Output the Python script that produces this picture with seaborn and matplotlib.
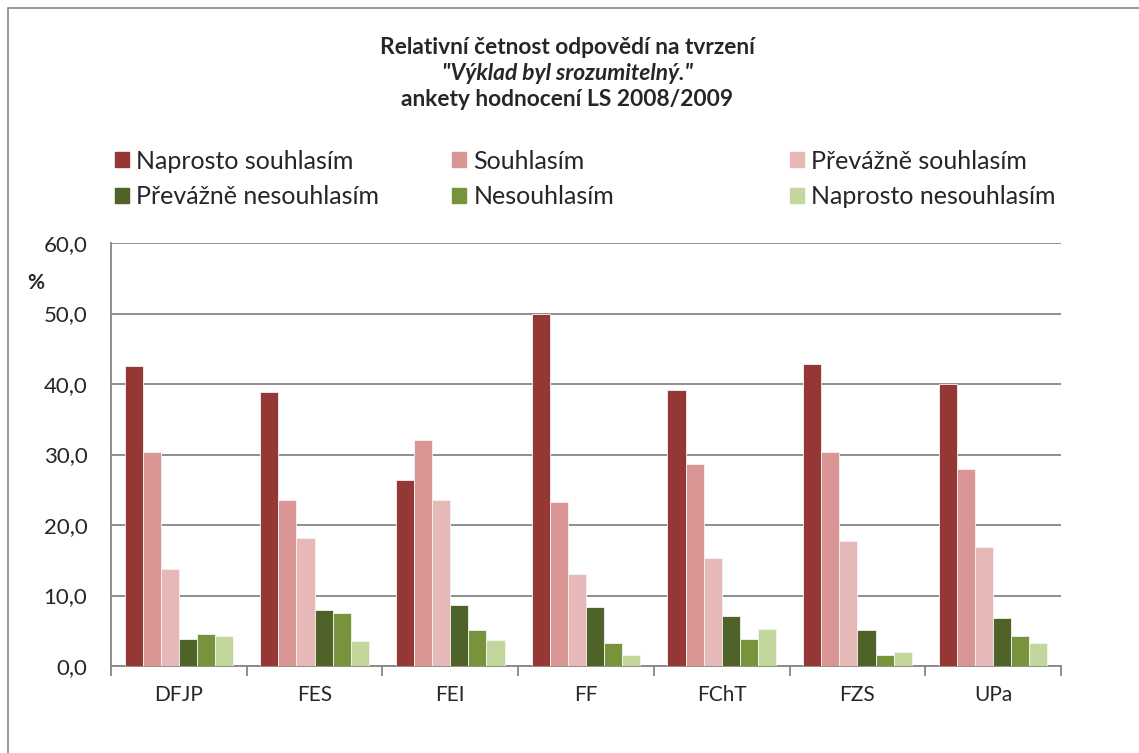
import numpy as np
import matplotlib
matplotlib.use('Agg')
import matplotlib.pyplot as plt
import matplotlib.patches as mpatches
from matplotlib.ticker import FuncFormatter, FixedLocator
import seaborn as sns
import pandas as pd

# data
faculties = ['DFJP', 'FES', 'FEI', 'FF', 'FChT', 'FZS', 'UPa']
answers = ['Naprosto souhlasím', 'Souhlasím', 'Převážně souhlasím',
           'Převážně nesouhlasím', 'Nesouhlasím', 'Naprosto nesouhlasím']
naprosto_souhlasim = [42.6, 38.8, 26.4, 50.0, 39.2, 42.8, 40.0]
souhlasim = [30.4, 23.5, 32.0, 23.2, 28.7, 30.3, 28.0]
prevazne_souhlasim = [13.8, 18.1, 23.6, 13.0, 15.3, 17.7, 16.9]
prevazne_nesouhlasim = [3.9, 8.0, 8.6, 8.4, 7.1, 5.1, 6.8]
nesouhlasim = [4.5, 7.5, 5.1, 3.3, 3.8, 1.5, 4.3]
naprosto_nesouhlasim = [4.2, 3.5, 3.7, 1.6, 5.2, 2.0, 3.3]
colors = ['#953735', '#D99694', '#E6B9B8', '#4F6228', '#77933C', '#C3D69B']

series = [naprosto_souhlasim, souhlasim, prevazne_souhlasim,
          prevazne_nesouhlasim, nesouhlasim, naprosto_nesouhlasim]
rows = []
for ans, vals in zip(answers, series):
    for fac, v in zip(faculties, vals):
        rows.append({'fakulta': fac, 'odpoved': ans, 'procent': v})
df = pd.DataFrame(rows)

sns.set_style('white')
plt.rcParams['font.family'] = ['Lato', 'DejaVu Sans']

fig = plt.figure(figsize=(11.39, 7.53), dpi=100)
ax = fig.add_axes([111 / 1139, 87 / 753, 950 / 1139, 423 / 753])

sns.barplot(data=df, x='fakulta', y='procent', hue='odpoved',
            hue_order=answers, order=faculties, palette=colors, saturation=1,
            width=0.8, gap=0, edgecolor='#f4f4f4', linewidth=0.6,
            legend=False, ax=ax, zorder=3)

grey = '#868686'
ax.set_ylim(0, 60)
ax.set_xlim(-0.5, len(faculties) - 0.5)
ax.set_yticks(np.arange(0, 61, 10))
ax.yaxis.set_major_formatter(FuncFormatter(lambda v, p: f'{v:.1f}'.replace('.', ',')))
ax.grid(axis='y', color=grey, linewidth=1.3, zorder=0)
ax.set_axisbelow(True)
for s in ['top', 'right']:
    ax.spines[s].set_visible(False)
for s in ['left', 'bottom']:
    ax.spines[s].set_color(grey)
    ax.spines[s].set_linewidth(1.3)
ax.tick_params(axis='y', length=8, width=1.3, color=grey, labelsize=16, pad=9)
ax.tick_params(axis='x', which='major', length=0, labelsize=15, pad=14)
ax.xaxis.set_minor_locator(FixedLocator(np.arange(-0.5, len(faculties), 1)))
ax.tick_params(axis='x', which='minor', length=7, width=1.3, color=grey, bottom=True)
ax.set_xlabel('')
ax.set_ylabel('')
fig.text(36 / 1139, 1 - 283 / 753, '%', fontsize=15, fontweight='bold', ha='center', va='center')

# title
title_kw = dict(fontsize=16.4, fontweight='bold', ha='center', va='center')
fig.text(567 / 1139, 1 - 48 / 753, 'Relativní četnost odpovědí na tvrzení', **title_kw)
fig.text(567 / 1139, 1 - 73 / 753, '"Výklad byl srozumitelný."', style='italic', **title_kw)
fig.text(567 / 1139, 1 - 99 / 753, 'ankety hodnocení LS 2008/2009', **title_kw)

# legend: one small legend per column so the columns sit where they do in the reference
handles = [mpatches.Patch(color=c, label=a) for c, a in zip(colors, answers)]
col_x = [115, 452, 790]
for i, x in enumerate(col_x):
    fig.legend([handles[i], handles[i + 3]], [answers[i], answers[i + 3]],
               loc='center left', bbox_to_anchor=(x / 1139, 1 - 179 / 753),
               frameon=False, fontsize=18, handlelength=0.55, handleheight=0.55,
               handletextpad=0.3, labelspacing=0.5, borderpad=0, borderaxespad=0)

# outer chart border (right and bottom edges fall outside the image)
fig.patches.append(mpatches.Rectangle((8 / 1139, -10 / 753), 1150 / 1139, 755 / 753,
                                      transform=fig.transFigure, fill=False,
                                      edgecolor=grey, linewidth=1.2))

fig.savefig('out.png', dpi=100)
